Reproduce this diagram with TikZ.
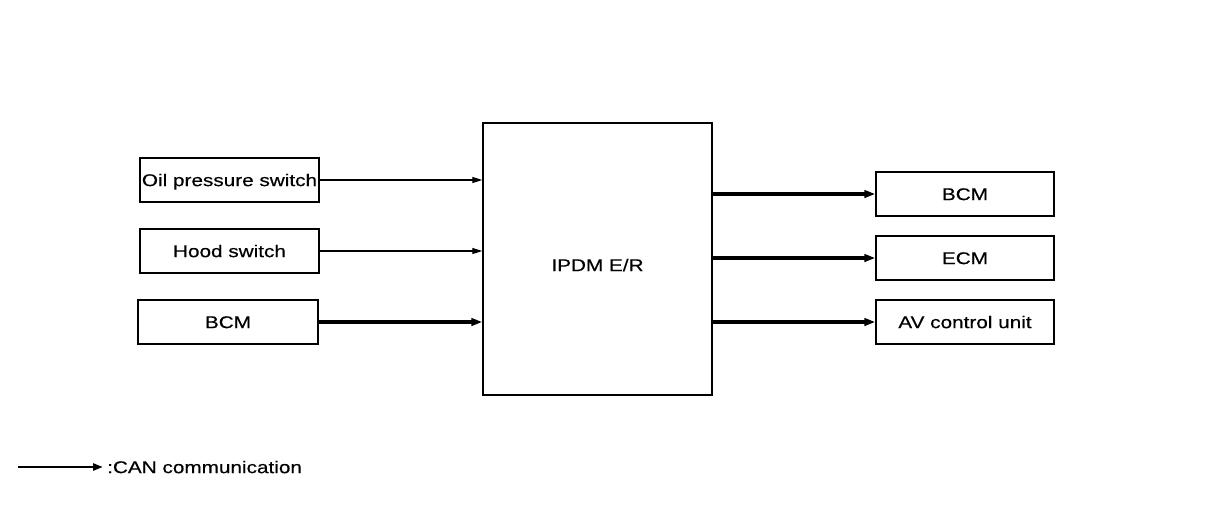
\documentclass[tikz,border=0pt]{standalone}
\usepackage{fontspec}
\setmainfont{Liberation Sans}[FakeStretch=1.22,FakeBold=0.4]
\usetikzlibrary{arrows.meta}
\begin{document}
\begin{tikzpicture}[x=1pt,y=-1pt,
  txt/.style={font=\fontsize{17}{19}\selectfont},
  box/.style={draw,line width=1.4pt,inner sep=0pt,txt,text height=12.2pt,text depth=0pt},
  thin/.style={line width=1.3pt,-{Triangle[length=10pt,width=6pt]}},
  can/.style={line width=3.4pt,-{Triangle[length=11pt,width=7.5pt]}}]
\useasboundingbox (0,0) rectangle (1216,512);
\fill[white] (0,0) rectangle (1216,512);
\node[box,minimum width=179pt,minimum height=44pt] (oil) at (229.5,180) {Oil pressure switch};
\node[box,minimum width=179pt,minimum height=44pt] (hood) at (229.5,251) {Hood switch};
\node[box,minimum width=180pt,minimum height=44pt] (bcml) at (228,322) {BCM};
\node[box,minimum width=229pt,minimum height=272pt,
  label={[txt,yshift=-6pt,text height=12.2pt,text depth=0pt]center:IPDM E/R}] (ipdm) at (597.5,259) {};
\node[box,minimum width=178pt,minimum height=44pt] (bcmr) at (965,194) {BCM};
\node[box,minimum width=178pt,minimum height=44pt] (ecm) at (965,258) {ECM};
\node[box,minimum width=178pt,minimum height=44pt] (av) at (965,322) {AV control unit};
\draw[thin] (oil.east) -- (ipdm.west |- oil.east);
\draw[thin] (hood.east) -- (ipdm.west |- hood.east);
\draw[can] (bcml.east) -- (ipdm.west |- bcml.east);
\draw[can] (ipdm.east |- bcmr.west) -- (bcmr.west);
\draw[can] (ipdm.east |- ecm.west) -- (ecm.west);
\draw[can] (ipdm.east |- av.west) -- (av.west);
\coordinate (ls) at (18,467);
\node[anchor=west,inner sep=0pt,txt,text height=12.2pt,text depth=0pt] (leg) at (107,467) {:CAN communication};
\draw[line width=2.6pt,-{Triangle[length=10pt,width=7pt]}] (ls) -- ([xshift=-4pt]leg.west);
\end{tikzpicture}
\end{document}
